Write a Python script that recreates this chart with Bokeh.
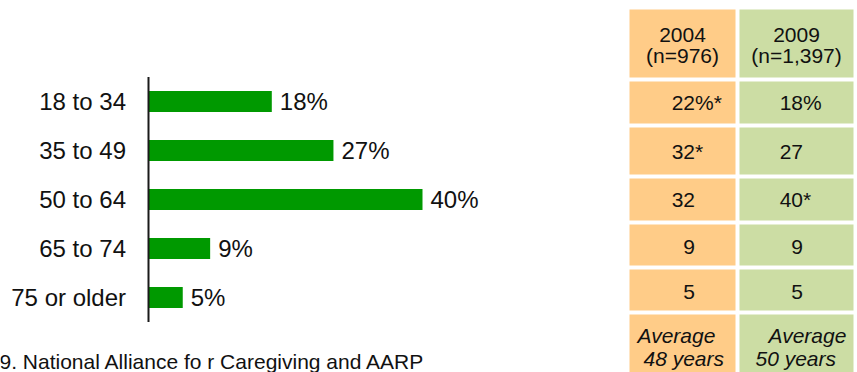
from bokeh.plotting import figure
from bokeh.models import Range1d, ColumnDataSource
from bokeh.embed import file_html
from bokeh.resources import INLINE
from bokeh.core.properties import value

# ---- data ----
age_groups = ["18 to 34", "35 to 49", "50 to 64", "65 to 74", "75 or older"]
pct_2009 = [18, 27, 40, 9, 5]
table_2004 = [22, 32, 32, 9, 5]
table_2004_marks = ["%*", "*", "", "", ""]
table_2009 = [18, 27, 40, 9, 5]
table_2009_marks = ["%", "", "*", "", ""]
headers_year = ["2004", "2009"]
headers_n = ["(n=976)", "(n=1,397)"]
avg_label = ["Average", "Average"]
avg_years = ["48 years", "50 years"]
source_note = "9. National Alliance fo r Caregiving and AARP"

# ---- layout constants ----
W, H = 857, 372
PX_PER_PCT = 6.85
AXIS_X = 148
ROW0, ROW_STEP = 101, 49
FONT = value("Liberation Sans")
BAR_GREEN = "#009900"
ORANGE = "#FFCC88"
LIGHT_GREEN = "#CCDDA4"
TXT = "#111111"

p = figure(width=W, height=H, output_backend="svg", toolbar_location=None,
           x_range=Range1d(-AXIS_X / PX_PER_PCT, (W - AXIS_X) / PX_PER_PCT),
           y_range=Range1d((H - ROW0) / ROW_STEP, -ROW0 / ROW_STEP),
           x_axis_location=None, y_axis_location=None, min_border=0,
           outline_line_color=None, background_fill_color="white",
           border_fill_color="white")
p.xgrid.visible = False
p.ygrid.visible = False
p.extra_x_ranges = {"px": Range1d(0, W)}
p.extra_y_ranges = {"px": Range1d(H, 0)}

idx = list(range(len(age_groups)))
src = ColumnDataSource(dict(y=idx, v=pct_2009, cat=age_groups,
                            lab=[f"{v}%" for v in pct_2009]))

p.hbar(y="y", left=0, right="v", height=0.43, source=src,
       fill_color=BAR_GREEN, line_color=None)
p.segment(x0=[0], y0=[-0.5], x1=[0], y1=[len(age_groups) - 0.5],
          line_color="#1a1a1a", line_width=2)
p.text(x=0, y="y", text="cat", source=src, x_offset=-22.5,
       text_align="right", text_baseline="middle", text_font=FONT,
       text_font_size="24px", text_color=TXT)
p.text(x="v", y="y", text="lab", source=src, x_offset=8,
       text_align="left", text_baseline="middle", text_font=FONT,
       text_font_size="24px", text_color=TXT)

# ---- table ----
col_edges = [(629, 735), (739, 853)]
col_fill = [ORANGE, LIGHT_GREEN]
row_edges = [(9, 77), (81, 123), (127, 174), (178, 220), (224, 265),
             (269, 310), (314, 380)]
row_text_y = [102, 151, 199, 246, 291]
num_anchor = [694.5, 802.5]
col_center = [682, 796]

lefts, rights, tops, bottoms, fills = [], [], [], [], []
for (l, r), c in zip(col_edges, col_fill):
    for (t, b) in row_edges:
        lefts.append(l); rights.append(r); tops.append(t); bottoms.append(b)
        fills.append(c)
p.quad(left=lefts, right=rights, top=tops, bottom=bottoms, fill_color=fills,
       line_color=None, x_range_name="px", y_range_name="px")

# header
p.text(x=col_center, y=[34, 34], text=headers_year, x_range_name="px",
       y_range_name="px", text_align="center", text_baseline="middle",
       text_font=FONT, text_font_size="21px", text_color=TXT)
p.text(x=col_center, y=[55, 55], text=headers_n, x_range_name="px",
       y_range_name="px", text_align="center", text_baseline="middle",
       text_font=FONT, text_font_size="21px", text_color=TXT)

# numbers
for vals, marks, ax in [(table_2004, table_2004_marks, num_anchor[0]),
                        (table_2009, table_2009_marks, num_anchor[1])]:
    p.text(x=[ax] * len(vals), y=row_text_y, text=[str(v) for v in vals],
           x_range_name="px", y_range_name="px", text_align="right",
           text_baseline="middle", text_font=FONT, text_font_size="21px",
           text_color=TXT)
    p.text(x=[ax] * len(vals), y=row_text_y, text=marks,
           x_range_name="px", y_range_name="px", text_align="left",
           text_baseline="middle", text_font=FONT, text_font_size="21px",
           text_color=TXT)

# averages
p.text(x=[637, 768], y=[335, 335], text=avg_label, x_range_name="px",
       y_range_name="px", text_align="left", text_baseline="middle",
       text_font=FONT, text_font_size="21px", text_font_style="italic",
       text_color=TXT)
p.text(x=[643, 755], y=[358, 358], text=avg_years, x_range_name="px",
       y_range_name="px", text_align="left", text_baseline="middle",
       text_font=FONT, text_font_size="21px", text_font_style="italic",
       text_color=TXT)

# source note at the bottom edge
p.text(x=[-1], y=[361], text=[source_note], x_range_name="px",
       y_range_name="px", text_align="left", text_baseline="alphabetic",
       text_font=FONT, text_font_size="21px", text_color=TXT)

open("out.html", "w").write(file_html(p, INLINE))
